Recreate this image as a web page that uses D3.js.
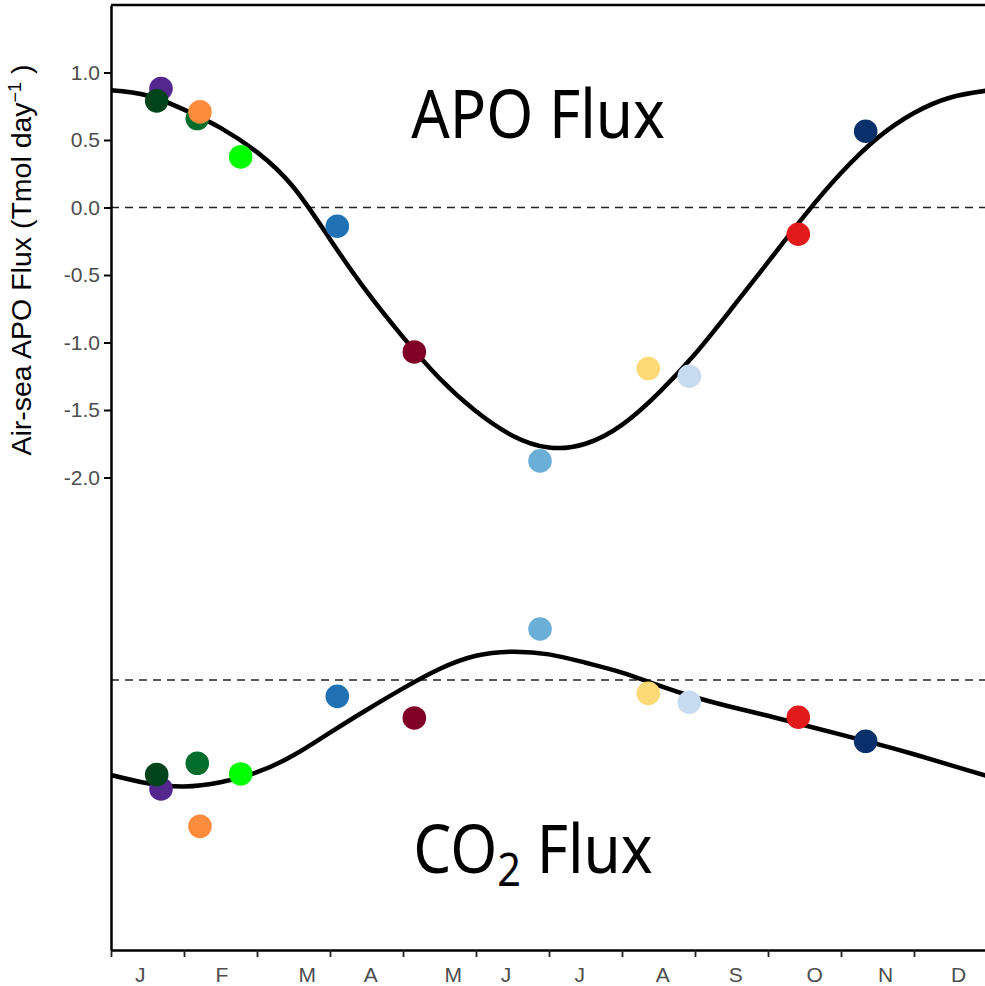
<!DOCTYPE html>
<html>
<head>
<meta charset="utf-8">
<script src="https://cdn.jsdelivr.net/npm/d3@7"></script>
<style>
  html, body { margin: 0; padding: 0; background: #fff; }
  svg { display: block; }
</style>
</head>
<body>
<svg id="chart" width="985" height="986"></svg>
<script>
// ---------------- data ----------------
const monthLabels = ["J","F","M","A","M","J","J","A","S","O","N","D"];
const monthLabelPos = [0.40, 1.52, 2.69, 3.56, 4.69, 5.41, 6.42, 7.56, 8.56, 9.64, 10.61, 11.61];
const monthTicks = [0,1,2,3,4,5,6,7,8,9,10,11,12];
const yTicks = [1.0, 0.5, 0.0, -0.5, -1.0, -1.5, -2.0];

// fitted curves (month, value)
const apoCurveMonth = [0,0.5,1,1.5,2,2.5,3,3.5,4,4.5,5,5.5,6,6.5,7,7.5,8,8.5,9,9.5,10,10.5,11,11.5,12];
const apoCurveValue = [0.869,0.830,0.725,0.590,0.410,0.150,-0.235,-0.620,-0.960,-1.265,-1.510,-1.690,-1.778,-1.750,-1.610,-1.375,-1.085,-0.750,-0.405,-0.060,0.255,0.515,0.700,0.815,0.866];
const co2CurveMonth = apoCurveMonth;
const co2CurveValue = [-0.704,-0.765,-0.789,-0.758,-0.683,-0.558,-0.390,-0.222,-0.062,0.082,0.180,0.210,0.190,0.128,0.055,-0.040,-0.128,-0.200,-0.265,-0.335,-0.405,-0.475,-0.550,-0.630,-0.711];
const co2Baseline = -3.5;

// individual points (drawing order)
const pointColor = ["#54278f","#00441b","#006d2c","#fd8d3c","#00ff00","#2171b5","#800026","#6baed6","#fed976","#c6dbef","#e31a1c","#08306b"];
const pointMonth = [0.685,0.626,1.182,1.219,1.777,3.100,4.155,5.877,7.360,7.922,9.415,10.338];
const apoPoint   = [0.881,0.790,0.659,0.708,0.375,-0.139,-1.070,-1.877,-1.193,-1.250,-0.198,0.565];
const co2Point   = [-0.807,-0.701,-0.617,-1.084,-0.696,-0.121,-0.281,0.378,-0.099,-0.165,-0.276,-0.454];

// ---------------- chart ----------------
const svg = d3.select("#chart");
const W = 985, H = 986;
svg.append("rect").attr("width", W).attr("height", H).attr("fill", "#fff");

const x = d3.scaleLinear().domain([0, 12]).range([111, 987]);
const y = d3.scaleLinear().domain([-5.5, 1.5]).range([950, 5]);

const axisFont = "'Liberation Sans', Arial, Helvetica, sans-serif";

// dashed zero lines
[0, co2Baseline].forEach(v => {
  svg.append("line")
    .attr("x1", x(0)).attr("x2", W)
    .attr("y1", y(v)).attr("y2", y(v))
    .attr("stroke", "#222").attr("stroke-width", 1.4)
    .attr("stroke-dasharray", "8,6");
});

// curves
const line = d3.line().x(d => x(d[0])).y(d => y(d[1])).curve(d3.curveNatural);
svg.append("path")
  .datum(apoCurveMonth.map((m, i) => [m, apoCurveValue[i]]))
  .attr("d", line).attr("fill", "none").attr("stroke", "#000").attr("stroke-width", 4.5);
svg.append("path")
  .datum(co2CurveMonth.map((m, i) => [m, co2CurveValue[i] + co2Baseline]))
  .attr("d", line).attr("fill", "none").attr("stroke", "#000").attr("stroke-width", 4.5);

// points
const pts = pointMonth.map((m, i) => ({m, apo: apoPoint[i], co2: co2Point[i], c: pointColor[i]}));
svg.append("g").selectAll("circle").data(pts).join("circle")
  .attr("cx", d => x(d.m)).attr("cy", d => y(d.co2 + co2Baseline))
  .attr("r", 11.8).attr("fill", d => d.c);
svg.append("g").selectAll("circle").data(pts).join("circle")
  .attr("cx", d => x(d.m)).attr("cy", d => y(d.apo))
  .attr("r", 11.8).attr("fill", d => d.c);

// top border
svg.append("line")
  .attr("x1", x(0)).attr("x2", W).attr("y1", y(1.5)).attr("y2", y(1.5))
  .attr("stroke", "#000").attr("stroke-width", 2.5);

// left axis
const yAxis = d3.axisLeft(y).tickValues(yTicks).tickSize(7).tickSizeOuter(0)
  .tickFormat(d => d.toFixed(1));
const gy = svg.append("g").attr("transform", `translate(${x(0)},0)`).call(yAxis);
gy.select(".domain").attr("stroke", "#000").attr("stroke-width", 2.5);
gy.selectAll(".tick line").attr("stroke", "#000").attr("stroke-width", 2);
gy.selectAll(".tick text").attr("x", -11).attr("fill", "#4d4d4d")
  .style("font-family", axisFont).style("font-size", "21px");

// bottom axis
const xAxis = d3.axisBottom(x).tickValues(monthTicks).tickSize(7).tickSizeOuter(0).tickFormat("");
const gx = svg.append("g").attr("transform", `translate(0,${y(-5.5)})`).call(xAxis);
gx.select(".domain").attr("stroke", "#000").attr("stroke-width", 2.5);
gx.selectAll(".tick line").attr("stroke", "#222").attr("stroke-width", 1.8);

svg.append("g").selectAll("text").data(monthLabels).join("text")
  .attr("x", (d, i) => x(monthLabelPos[i])).attr("y", 982)
  .attr("text-anchor", "middle").attr("fill", "#4d4d4d")
  .style("font-family", axisFont).style("font-size", "21px")
  .text(d => d);

// y axis title
const yt = svg.append("text")
  .attr("transform", "translate(31,260) rotate(-90)")
  .attr("text-anchor", "middle").attr("fill", "#000")
  .style("font-family", axisFont).style("font-size", "28.5px");
yt.append("tspan").text("Air-sea APO Flux (Tmol day");
yt.append("tspan").attr("dy", -10).style("font-size", "18px").text("\u22121");
yt.append("tspan").attr("dy", 10).text(" )");

// big labels
const bigFont = "'Noto Sans', 'Open Sans', sans-serif";
svg.append("text").attr("transform", "translate(538,138) scale(0.9,1)")
  .attr("text-anchor", "middle")
  .style("font-family", bigFont).style("font-size", "67px").attr("fill", "#000")
  .text("APO Flux");
const co2t = svg.append("text").attr("transform", "translate(533,873) scale(0.9,1)")
  .attr("text-anchor", "middle")
  .style("font-family", bigFont).style("font-size", "67px").attr("fill", "#000");
co2t.append("tspan").text("CO");
co2t.append("tspan").attr("dy", 13).style("font-size", "46px").text("2");
co2t.append("tspan").attr("dy", -13).text(" Flux");
</script>
</body>
</html>
